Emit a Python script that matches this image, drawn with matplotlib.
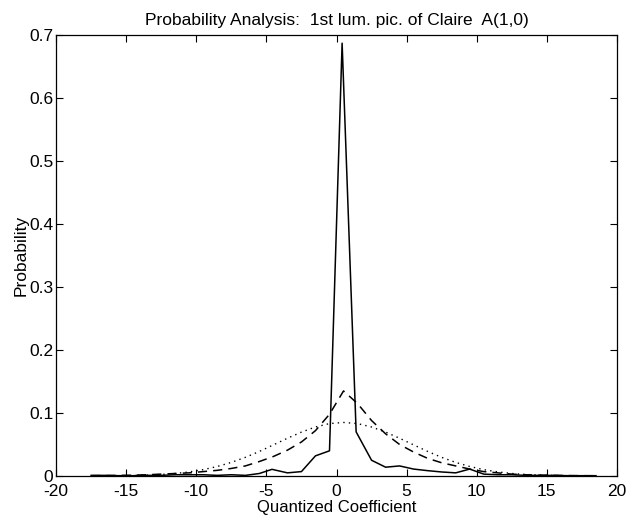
import matplotlib
matplotlib.use("Agg")
import matplotlib.pyplot as plt

plt.rcParams['font.family'] = ['Liberation Sans', 'DejaVu Sans']

# Solid: measured histogram
solid_x = [-17.5, -16.5, -15.5, -14.5, -13.5, -12.5, -11.5, -10.5, -9.5, -8.5,
           -7.5, -6.5, -5.5, -4.6, -3.5, -2.5, -1.5, -0.5, 0.4, 1.4, 2.5, 3.5,
           4.5, 5.5, 6.5, 7.5, 8.5, 9.5, 10.5, 11.5, 12.5, 13.5, 14.5, 15.5,
           16.5, 17.5, 18.5]
solid_y = [0.001, 0.001, 0.0005, 0.0005, 0.001, 0.001, 0.002, 0.002, 0.002, 0.001,
           0.002, 0.001, 0.004, 0.0106, 0.005, 0.007, 0.032, 0.040, 0.687, 0.070,
           0.025, 0.014, 0.016, 0.011, 0.0085, 0.0064, 0.005, 0.011, 0.003, 0.002,
           0.002, 0.001, 0.001, 0.001, 0.0005, 0.0005, 0.0005]

# Dashed: Laplacian-like model
dash_x = [-17.5, -16.5, -15.5, -14.5, -13.5, -12.5, -11.5, -10.5, -9.5, -8.5,
          -7.5, -6.5, -5.5, -4.5, -3.5, -2.5, -1.5, -0.5, 0.5, 1.5, 2.5, 3.5,
          4.5, 5.5, 6.5, 7.5, 8.5, 9.5, 10.5, 11.5, 12.5, 13.5, 14.5, 15.5,
          16.5, 17.5, 18.5]
dash_y = [0.0005, 0.0007, 0.001, 0.0013, 0.002, 0.003, 0.004, 0.005, 0.007, 0.009,
          0.012, 0.016, 0.023, 0.031, 0.041, 0.054, 0.072, 0.098, 0.135, 0.115,
          0.088, 0.067, 0.050, 0.038, 0.028, 0.021, 0.016, 0.011, 0.007, 0.005,
          0.003, 0.002, 0.0013, 0.001, 0.0007, 0.0005, 0.0004]

# Dotted: Gaussian-like model
dot_x = [-17.5, -16.5, -15.5, -14.5, -13.5, -12.5, -11.5, -10.5, -9.5, -8.5,
         -7.5, -6.5, -5.5, -4.5, -3.5, -2.5, -1.5, -0.5, 0.5, 1.5, 2.5, 3.5,
         4.5, 5.5, 6.5, 7.5, 8.5, 9.5, 10.5, 11.5, 12.5, 13.5, 14.5, 15.5,
         16.5, 17.5, 18.5]
dot_y = [0.0001, 0.0002, 0.0004, 0.0008, 0.0014, 0.0024, 0.0040, 0.0065, 0.0101, 0.0151,
         0.0216, 0.0296, 0.0390, 0.0494, 0.0599, 0.0697, 0.0778, 0.0832, 0.085, 0.0832,
         0.0778, 0.0697, 0.0599, 0.0494, 0.0390, 0.0296, 0.0216, 0.0151, 0.0101, 0.0065,
         0.0040, 0.0024, 0.0014, 0.0008, 0.0004, 0.0002, 0.0001]

x_ticks = [-20, -15, -10, -5, 0, 5, 10, 15, 20]
y_ticks = [0, 0.1, 0.2, 0.3, 0.4, 0.5, 0.6, 0.7]
y_labels = ['0', '0.1', '0.2', '0.3', '0.4', '0.5', '0.6', '0.7']

fig = plt.figure(figsize=(6.26, 5.2), dpi=100)
ax = fig.add_axes([0.0895, 0.0846, 0.8961, 0.8481])

ax.plot(solid_x, solid_y, color='black', linewidth=1.1, linestyle='-')
ax.plot(dash_x, dash_y, color='black', linewidth=1.1, linestyle=(0, (6, 4)))
ax.plot(dot_x, dot_y, color='black', linewidth=1.0, linestyle=(0, (1, 3)))

ax.set_xlim(-20, 20)
ax.set_ylim(0, 0.7)
ax.set_xticks(x_ticks)
ax.set_xticklabels([str(t) for t in x_ticks])
ax.set_yticks(y_ticks)
ax.set_yticklabels(y_labels)
ax.tick_params(direction='in', top=True, right=True, length=5, width=0.8,
               labelsize=12.5)
ax.tick_params(axis='x', pad=5.5)
ax.tick_params(axis='y', pad=2)
for s in ax.spines.values():
    s.set_linewidth(0.9)

ax.set_title('Probability Analysis:  1st lum. pic. of Claire  A(1,0)', fontsize=12.5, pad=7)
ax.set_xlabel('Quantized Coefficient', fontsize=12, labelpad=1)
ax.set_ylabel('Probability', fontsize=12.5, labelpad=0)

fig.savefig('out.png', dpi=100)
